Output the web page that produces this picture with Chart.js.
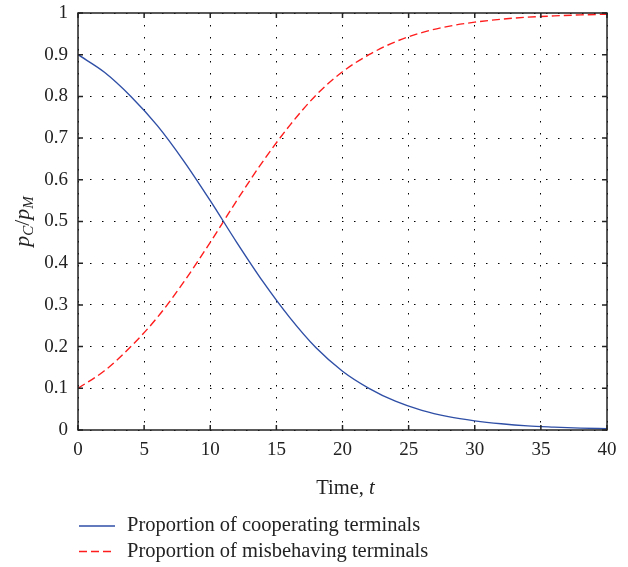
<!DOCTYPE html>
<html>
<head>
<meta charset="utf-8">
<script src="https://cdn.jsdelivr.net/npm/chart.js@4.4.0/dist/chart.umd.min.js"></script>
<style>
  html, body { margin: 0; padding: 0; background: #fff; }
  #wrap { width: 628px; height: 567px; }
</style>
</head>
<body>
<div id="wrap"><canvas id="chart" width="628" height="567"></canvas></div>
<script>
// values
const times = [0, 2, 4, 6, 8, 10, 12, 14, 16, 18, 20, 22, 24, 26, 28, 30, 32, 34, 36, 38, 40];
const cooperating = [0.90, 0.858, 0.80, 0.73, 0.645, 0.55, 0.45, 0.355, 0.27, 0.197, 0.141, 0.10, 0.069, 0.047, 0.032, 0.022, 0.015, 0.01, 0.007, 0.0045, 0.003];
const misbehaving = [0.10, 0.142, 0.20, 0.27, 0.355, 0.45, 0.55, 0.645, 0.73, 0.803, 0.859, 0.90, 0.931, 0.953, 0.968, 0.978, 0.985, 0.99, 0.993, 0.9955, 0.997];
const xTicks = [0, 5, 10, 15, 20, 25, 30, 35, 40];
const yTicks = [0, 0.1, 0.2, 0.3, 0.4, 0.5, 0.6, 0.7, 0.8, 0.9, 1];
const yTickLabels = ['0', '0.1', '0.2', '0.3', '0.4', '0.5', '0.6', '0.7', '0.8', '0.9', '1'];
const seriesLabels = ['Proportion of cooperating terminals', 'Proportion of misbehaving terminals'];

const FONT = "'Liberation Serif', 'DejaVu Serif', serif";
const BLUE = '#2f4fa6';
const RED = '#ff1c1c';

function points(ys) {
  return times.map((t, i) => ({ x: t, y: ys[i] }));
}

// frame, inward tick marks, axis titles and the legend (matlab look)
const decor = {
  id: 'decor',
  afterDraw(chart) {
    const ctx = chart.ctx;
    const a = chart.chartArea;
    const xs = chart.scales.x, ys = chart.scales.y;
    ctx.save();
    ctx.strokeStyle = '#222';
    ctx.lineWidth = 1.5;
    ctx.strokeRect(a.left, a.top, a.right - a.left, a.bottom - a.top);

    ctx.beginPath();
    xTicks.forEach(v => {
      const px = xs.getPixelForValue(v);
      ctx.moveTo(px, a.bottom); ctx.lineTo(px, a.bottom - 5);
      ctx.moveTo(px, a.top); ctx.lineTo(px, a.top + 5);
    });
    yTicks.forEach(v => {
      const py = ys.getPixelForValue(v);
      ctx.moveTo(a.left, py); ctx.lineTo(a.left + 5, py);
      ctx.moveTo(a.right, py); ctx.lineTo(a.right - 5, py);
    });
    ctx.stroke();

    // x title: Time, t
    ctx.fillStyle = '#222';
    ctx.textBaseline = 'alphabetic';
    const cx = (a.left + a.right) / 2 + 3;
    ctx.font = '20.5px ' + FONT;
    const w1 = ctx.measureText('Time, ').width;
    ctx.font = 'italic 20.5px ' + FONT;
    const w2 = ctx.measureText('t').width;
    const x0 = cx - (w1 + w2) / 2;
    ctx.font = '20.5px ' + FONT;
    ctx.fillText('Time, ', x0, 494);
    ctx.font = 'italic 20.5px ' + FONT;
    ctx.fillText('t', x0 + w1, 494);

    // y title: p_C / p_M
    ctx.save();
    ctx.translate(29, (a.top + a.bottom) / 2);
    ctx.rotate(-Math.PI / 2);
    const parts = [
      { t: 'p', f: 'italic 22px ', dy: 0 },
      { t: 'C', f: 'italic 15px ', dy: 4 },
      { t: '/', f: '22px ', dy: 0 },
      { t: 'p', f: 'italic 22px ', dy: 0 },
      { t: 'M', f: 'italic 15px ', dy: 4 }
    ];
    let total = 0;
    parts.forEach(p => { ctx.font = p.f + FONT; p.w = ctx.measureText(p.t).width; total += p.w; });
    let px = -total / 2;
    parts.forEach(p => {
      ctx.font = p.f + FONT;
      ctx.fillText(p.t, px, p.dy);
      px += p.w;
    });
    ctx.restore();

    // legend
    ctx.textBaseline = 'middle';
    ctx.font = '20.5px ' + FONT;
    chart.data.datasets.forEach((ds, i) => {
      const y = 526 + i * 25.5;
      ctx.strokeStyle = ds.borderColor;
      ctx.lineWidth = 1.4;
      ctx.setLineDash(ds.borderDash || []);
      ctx.beginPath();
      ctx.moveTo(79, y); ctx.lineTo(115, y);
      ctx.stroke();
      ctx.setLineDash([]);
      ctx.fillStyle = '#222';
      ctx.fillText(ds.label, 127, y);
    });
    ctx.restore();
  }
};

new Chart(document.getElementById('chart'), {
  type: 'line',
  data: {
    datasets: [{
      label: seriesLabels[0],
      data: points(cooperating),
      borderColor: BLUE,
      borderWidth: 1.4,
      pointRadius: 0,
      cubicInterpolationMode: 'monotone',
      fill: false
    }, {
      label: seriesLabels[1],
      data: points(misbehaving),
      borderColor: RED,
      borderWidth: 1.4,
      borderDash: [8, 4],
      pointRadius: 0,
      cubicInterpolationMode: 'monotone',
      fill: false
    }]
  },
  options: {
    responsive: false,
    animation: false,
    events: [],
    layout: { padding: { top: 13, right: 21, left: 0, bottom: 0 } },
    plugins: { legend: { display: false }, tooltip: { enabled: false } },
    scales: {
      x: {
        type: 'linear',
        min: 0, max: 40,
        afterBuildTicks: s => { s.ticks = xTicks.map(v => ({ value: v })); },
        afterFit: s => { s.height = 137; s.paddingLeft = 0; s.paddingRight = 0; },
        grid: { color: '#000', lineWidth: 1, drawTicks: false },
        border: { display: false, dash: [1.5, 10.5] },
        ticks: { color: '#222', padding: 9, font: { family: FONT, size: 19 } }
      },
      y: {
        min: 0, max: 1,
        afterBuildTicks: s => { s.ticks = yTicks.map(v => ({ value: v })); },
        afterFit: s => { s.width = 78; s.paddingTop = 0; s.paddingBottom = 0; },
        grid: { color: '#000', lineWidth: 1, drawTicks: false },
        border: { display: false, dash: [1.5, 10.5] },
        ticks: {
          color: '#222', padding: 10, font: { family: FONT, size: 19 },
          callback: (v, i) => yTickLabels[i]
        }
      }
    }
  },
  plugins: [decor]
});
</script>
</body>
</html>
